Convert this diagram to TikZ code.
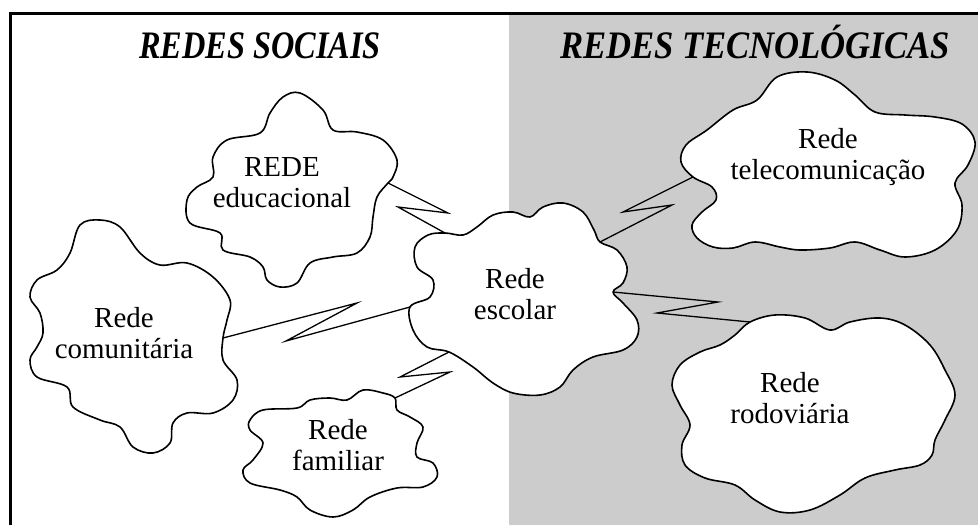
\documentclass[tikz,border=0pt]{standalone}
\usepackage{fontspec}
\setmainfont{Liberation Serif}
\begin{document}
\begin{tikzpicture}[x=1pt,y=-1pt,
  cloudline/.style={draw=black, fill=white, line width=1.6pt, line join=round},
  bolt/.style={draw=black, line width=1.3pt, line join=miter},
  lbl/.style={inner sep=0pt, align=center, font=\fontsize{29}{31}\selectfont},
  ttl/.style={inner sep=0pt, anchor=base, font=\fontsize{33}{36}\selectfont\bfseries\itshape}]
\useasboundingbox (0,0) rectangle (978,525);
\fill[black!20] (509,14) rectangle (978,525);
\draw[line width=3pt] (10,525) -- (10,13) -- (978,13);

\node[ttl] (tsoc) at (260,58) {\scalebox{0.98}[1.18]{REDES SOCIAIS}};
\node[ttl] (ttec) at (755,58) {\scalebox{1.05}[1.18]{REDES TECNOLÓGICAS}};

% clouds
\draw[cloudline] plot[smooth cycle, tension=0.6] coordinates {(300,93) (323,110) (333,130) (357,132) (383,140) (397,160) (393,177) (388,183) (377,197) (373,217) (370,237) (357,253) (333,257) (310,263) (297,283) (280,287) (267,280) (263,267) (250,257) (223,250) (220,233) (190,223) (187,200) (197,187) (213,177) (213,157) (227,140) (260,133) (270,113) (283,97)};
\draw[cloudline] plot[smooth cycle, tension=0.6] coordinates {(100,220) (120,227) (140,253) (160,265) (187,263) (213,277) (230,300) (227,320) (223,338) (223,360) (237,380) (233,400) (213,413) (187,413) (173,423) (170,443) (153,453) (133,447) (120,427) (100,420) (73,407) (67,387) (37,377) (30,360) (37,347) (43,333) (40,313) (30,297) (37,280) (57,270) (70,253) (80,225)};
\draw[cloudline] plot[smooth cycle, tension=0.6] coordinates {(263,410) (297,408) (310,400) (330,398) (347,400) (363,390) (383,393) (395,398) (397,410) (410,417) (423,427) (417,443) (417,457) (433,463) (437,477) (423,487) (397,488) (370,497) (353,510) (333,517) (310,510) (297,497) (280,490) (250,483) (243,470) (253,460) (263,443) (250,430) (250,420)};
\draw[cloudline] plot[smooth cycle, tension=0.6] coordinates {(445,233) (463,235) (477,227) (493,215) (513,212) (530,217) (543,207) (563,203) (583,212) (594,230) (600,242) (617,250) (627,267) (623,283) (613,292) (623,303) (637,320) (637,337) (623,350) (593,357) (573,370) (560,387) (540,395) (513,393) (493,383) (473,367) (449,352) (427,347) (413,330) (410,307) (430,297) (433,280) (417,267) (415,247) (428,235)};
\draw[cloudline] plot[smooth cycle, tension=0.6] coordinates {(777,77) (807,72) (835,80) (855,95) (875,112) (905,115) (935,117) (962,124) (975,142) (968,165) (955,183) (962,205) (957,230) (935,250) (905,257) (880,250) (855,242) (830,248) (800,250) (780,247) (755,242) (733,248) (713,247) (697,238) (692,225) (702,212) (716,200) (712,187) (693,177) (681,162) (686,145) (707,130) (733,110) (757,100)};
\draw[cloudline] plot[smooth cycle, tension=0.6] coordinates {(750,322) (775,315) (805,318) (830,330) (850,322) (880,318) (905,325) (930,345) (945,370) (955,395) (945,420) (935,440) (932,455) (920,465) (895,470) (865,478) (840,495) (810,510) (780,512) (755,500) (735,485) (705,478) (685,465) (682,445) (690,425) (680,405) (672,385) (680,365) (700,352) (720,345) (735,335)};

% labels
\node[lbl] (edu) at (282,182.6) {REDE\\educacional};
\node[lbl] (com) at (124,332.6) {Rede\\comunitária};
\node[lbl] (fam) at (338,444.6) {Rede\\familiar};
\node[lbl] (esc) at (515,293.6) {Rede\\escolar};
\node[lbl] (tel) at (828,156.6) {Rede\\telecomunicação};
\node[lbl] (rod) at (790,397.6) {Rede\\rodoviária};

% junction points
\coordinate (eduJ) at (388,183);
\coordinate (escJa) at (445,233);
\coordinate (comJ) at (223,338);
\coordinate (escJb) at (410,307);
\coordinate (famJ) at (395,398);
\coordinate (escJc) at (449,352);
\coordinate (escJd) at (600,242);
\coordinate (telJ) at (693,177);
\coordinate (escJe) at (613,292);
\coordinate (rodJ) at (750,322);
% bolt corners
\coordinate (b1a) at (448,213); \coordinate (b1b) at (398,207);
\coordinate (b2a) at (357,303); \coordinate (b2b) at (286,341);
\coordinate (b3a) at (450,372); \coordinate (b3b) at (400,377);
\coordinate (b4a) at (672,205); \coordinate (b4b) at (623,212);
\coordinate (b5a) at (718,302); \coordinate (b5b) at (657,313);

\draw[bolt] (eduJ) -- (b1a) -- (b1b) -- (escJa);
\draw[bolt] (comJ) -- (b2a) -- (b2b) -- (escJb);
\draw[bolt] (famJ) -- (b3a) -- (b3b) -- (escJc);
\draw[bolt] (escJd) -- (b4a) -- (b4b) -- (telJ);
\draw[bolt] (escJe) -- (b5a) -- (b5b) -- (rodJ);
\end{tikzpicture}
\end{document}
